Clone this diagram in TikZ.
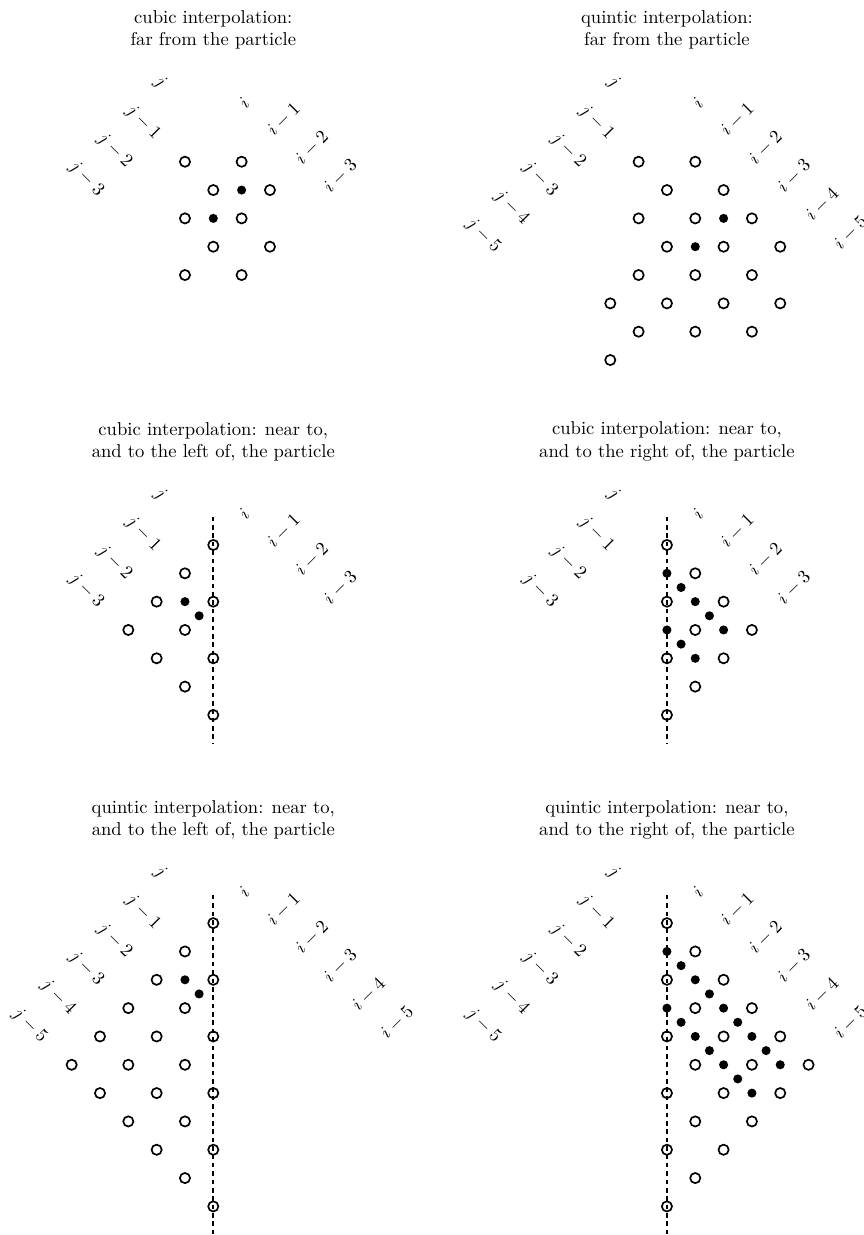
\documentclass[tikz,border=0pt]{standalone}
\usepackage{tikz}

\begin{document}
\begin{tikzpicture}[x=0.535cm,y=0.535cm,
  gridpt/.style={line width=0.9pt},
  heading/.style={align=center},
  ilab/.style={rotate=45,anchor=west,inner sep=0pt},
  jlab/.style={rotate=-45,anchor=west,inner sep=0pt},
  cutline/.style={line width=0.9pt,dash pattern=on 2.5pt off 2pt}]

  \useasboundingbox (0,0) rectangle (30.5,-43.6);

  \begin{scope}[shift={(6.53,-5.71)}]
    \node[heading] (t1) at (1,4.65) {cubic interpolation:\\far from the particle};
    \node[jlab] (p1j0) at (-1,2.9) {$j$};
    \foreach \k in {1,...,3} \node[jlab] (p1j\k) at (-1-\k,2.9-\k) {$j-\k$};
    \node[ilab] (p1i0) at (2,2) {$i$};
    \foreach \k in {1,...,3} \node[ilab] (p1i\k) at (2+\k,2-\k) {$i-\k$};
    \foreach \p in {(0,0),(2,0),(1,-1),(3,-1),(0,-2),(2,-2),(1,-3),(3,-3),(0,-4),(2,-4)}
      \draw[gridpt] \p circle (0.18);
    \foreach \p in {(2,-1),(1,-2)}
      \fill \p circle (0.16);
  \end{scope}

  \begin{scope}[shift={(22.545,-5.71)}]
    \node[heading] (t2) at (1,4.65) {quintic interpolation:\\far from the particle};
    \node[jlab] (p2j0) at (-1,2.9) {$j$};
    \foreach \k in {1,...,5} \node[jlab] (p2j\k) at (-1-\k,2.9-\k) {$j-\k$};
    \node[ilab] (p2i0) at (2,2) {$i$};
    \foreach \k in {1,...,5} \node[ilab] (p2i\k) at (2+\k,2-\k) {$i-\k$};
    \foreach \p in {(0,0),(2,0),(1,-1),(3,-1),(0,-2),(2,-2),(4,-2),(1,-3),(3,-3),(5,-3),
                    (0,-4),(2,-4),(4,-4),(-1,-5),(1,-5),(3,-5),(5,-5),(0,-6),(2,-6),(4,-6),(-1,-7)}
      \draw[gridpt] \p circle (0.18);
    \foreach \p in {(3,-2),(2,-3)}
      \fill \p circle (0.16);
  \end{scope}

  \begin{scope}[shift={(6.53,-20.24)}]
    \node[heading] (t3) at (1,4.65) {cubic interpolation: near to,\\and to the left of, the particle};
    \node[jlab] (p3j0) at (-1,2.9) {$j$};
    \foreach \k in {1,...,3} \node[jlab] (p3j\k) at (-1-\k,2.9-\k) {$j-\k$};
    \node[ilab] (p3i0) at (2,2) {$i$};
    \foreach \k in {1,...,3} \node[ilab] (p3i\k) at (2+\k,2-\k) {$i-\k$};
    \draw[cutline] (1,2) -- (1,-6);
    \foreach \p in {(1,1),(0,0),(-1,-1),(1,-1),(-2,-2),(0,-2),(-1,-3),(1,-3),(0,-4),(1,-5)}
      \draw[gridpt] \p circle (0.18);
    \foreach \p in {(0,-1),(0.5,-1.5)}
      \fill \p circle (0.16);
  \end{scope}

  \begin{scope}[shift={(22.545,-20.24)}]
    \node[heading] (t4) at (1,4.65) {cubic interpolation: near to,\\and to the right of, the particle};
    \node[jlab] (p4j0) at (-1,2.9) {$j$};
    \foreach \k in {1,...,3} \node[jlab] (p4j\k) at (-1-\k,2.9-\k) {$j-\k$};
    \node[ilab] (p4i0) at (2,2) {$i$};
    \foreach \k in {1,...,3} \node[ilab] (p4i\k) at (2+\k,2-\k) {$i-\k$};
    \draw[cutline] (1,2) -- (1,-6);
    \foreach \p in {(1,1),(2,0),(1,-1),(3,-1),(2,-2),(4,-2),(1,-3),(3,-3),(2,-4),(1,-5)}
      \draw[gridpt] \p circle (0.18);
    \foreach \p in {(1,0),(1.5,-0.5),(2,-1),(2.5,-1.5),(1,-2),(3,-2),(1.5,-2.5),(2,-3)}
      \fill \p circle (0.16);
  \end{scope}

  \begin{scope}[shift={(6.53,-33.59)}]
    \node[heading] (t5) at (1,4.65) {quintic interpolation: near to,\\and to the left of, the particle};
    \node[jlab] (p5j0) at (-1,2.9) {$j$};
    \foreach \k in {1,...,5} \node[jlab] (p5j\k) at (-1-\k,2.9-\k) {$j-\k$};
    \node[ilab] (p5i0) at (2,2) {$i$};
    \foreach \k in {1,...,5} \node[ilab] (p5i\k) at (2+\k,2-\k) {$i-\k$};
    \draw[cutline] (1,2) -- (1,-10);
    \foreach \p in {(1,1),(0,0),(-1,-1),(1,-1),(-2,-2),(0,-2),(-3,-3),(-1,-3),(1,-3),(-4,-4),(-2,-4),
                    (0,-4),(-3,-5),(-1,-5),(1,-5),(-2,-6),(0,-6),(-1,-7),(1,-7),(0,-8),(1,-9)}
      \draw[gridpt] \p circle (0.18);
    \foreach \p in {(0,-1),(0.5,-1.5)}
      \fill \p circle (0.16);
  \end{scope}

  \begin{scope}[shift={(22.545,-33.59)}]
    \node[heading] (t6) at (1,4.65) {quintic interpolation: near to,\\and to the right of, the particle};
    \node[jlab] (p6j0) at (-1,2.9) {$j$};
    \foreach \k in {1,...,5} \node[jlab] (p6j\k) at (-1-\k,2.9-\k) {$j-\k$};
    \node[ilab] (p6i0) at (2,2) {$i$};
    \foreach \k in {1,...,5} \node[ilab] (p6i\k) at (2+\k,2-\k) {$i-\k$};
    \draw[cutline] (1,2) -- (1,-10);
    \foreach \p in {(1,1),(2,0),(1,-1),(3,-1),(2,-2),(4,-2),(1,-3),(3,-3),(5,-3),(2,-4),(4,-4),
                    (6,-4),(1,-5),(3,-5),(5,-5),(2,-6),(4,-6),(1,-7),(3,-7),(2,-8),(1,-9)}
      \draw[gridpt] \p circle (0.18);
    \foreach \p in {(1,0),(1.5,-0.5),(2,-1),(2.5,-1.5),(1,-2),(3,-2),(1.5,-2.5),(3.5,-2.5),
                    (2,-3),(4,-3),(2.5,-3.5),(4.5,-3.5),(3,-4),(5,-4),(3.5,-4.5),(4,-5)}
      \fill \p circle (0.16);
  \end{scope}
\end{tikzpicture}
\end{document}
